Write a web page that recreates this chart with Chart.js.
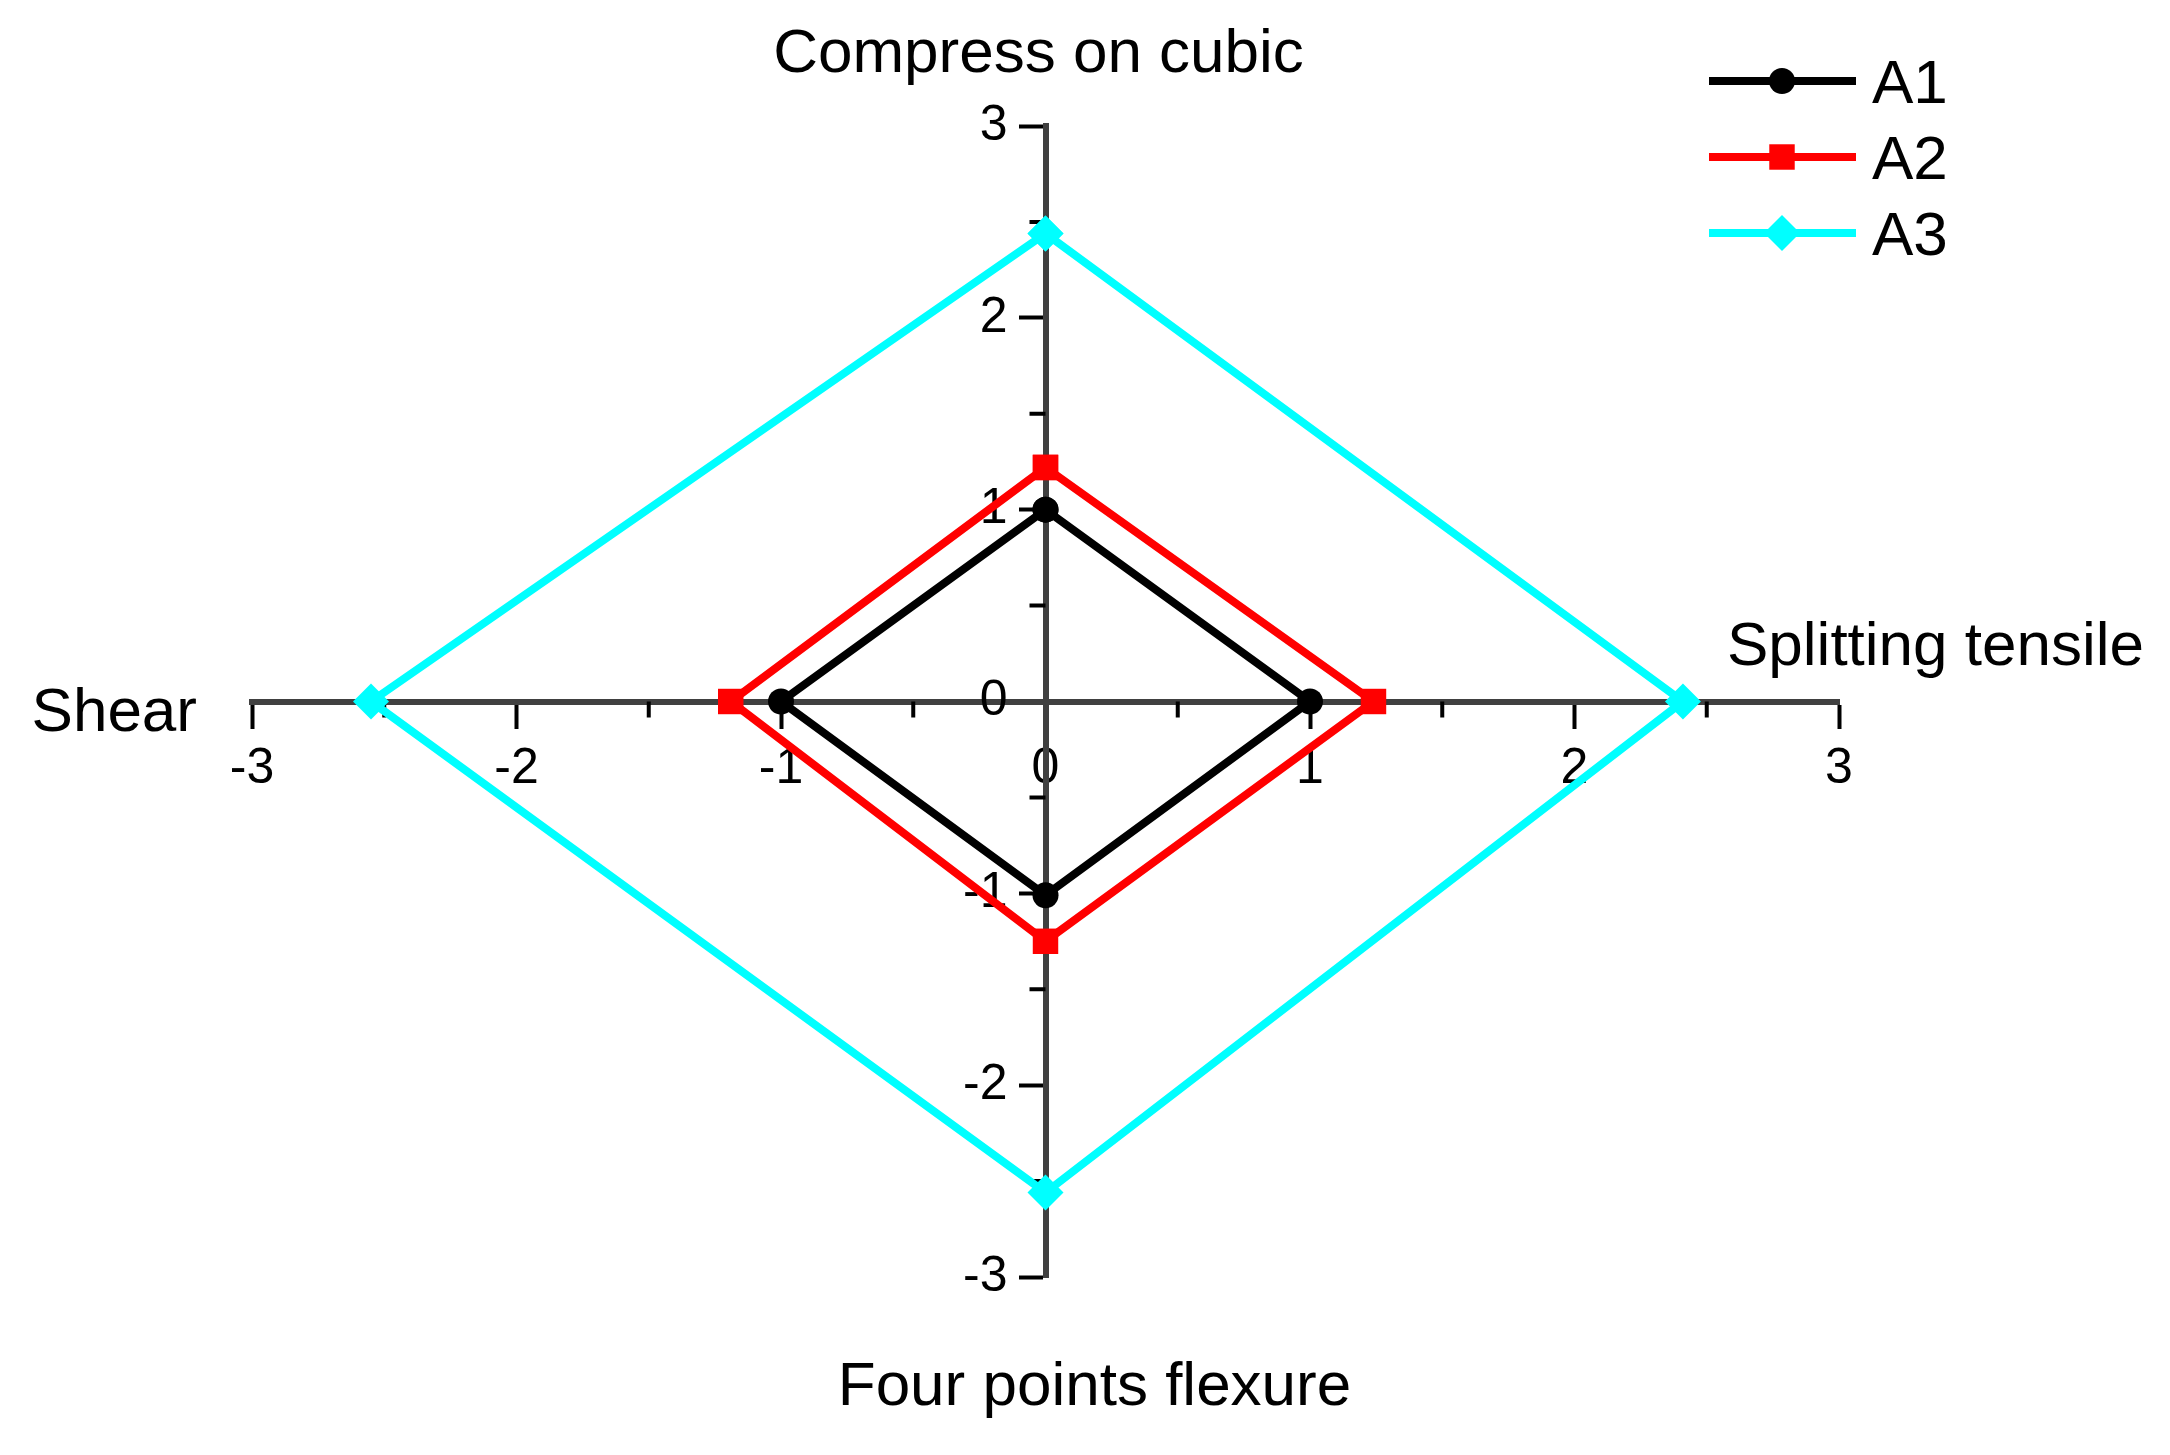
<!DOCTYPE html>
<html><head><meta charset="utf-8">
<script src="https://cdn.jsdelivr.net/npm/chart.js@4.4.1/dist/chart.umd.min.js"></script>
<style>html,body{margin:0;padding:0;background:#fff;} canvas{display:block;}</style>
</head><body>
<canvas id="c" width="2170" height="1455"></canvas>
<script>
// Axis names: top, right, bottom, left
const axisNames = ['Compress on cubic', 'Splitting tensile', 'Four points flexure', 'Shear'];
const seriesNames = ['A1', 'A2', 'A3'];
// values in order: top (y), right (x), bottom (y), left (x)
const a1Values = [1.00, 1.00, -1.01, -1.00];
const a2Values = [1.22, 1.24, -1.25, -1.19];
const a3Values = [2.44, 2.41, -2.56, -2.55];
const tickValues = [-3, -2, -1, 0, 1, 2, 3];
const tickLabels = ['-3', '-2', '-1', '0', '1', '2', '3'];
const minorTickValues = [-2.5, -1.5, -0.5, 0.5, 1.5, 2.5];

const seriesColors = ['#000000', '#ff0000', '#00ffff'];
const seriesMarkers = ['circle', 'rect', 'rectRot'];
const markerRadius = [13, 18, 18];
const FONT = "'Liberation Sans', Arial, sans-serif";

function toPoints(v) {
  return [{x: 0, y: v[0]}, {x: v[1], y: 0}, {x: 0, y: v[2]}, {x: v[3], y: 0}, {x: 0, y: v[0]}];
}

const allValues = [a1Values, a2Values, a3Values];
const datasets = allValues.map((vals, i) => ({
  label: seriesNames[i],
  data: toPoints(vals),
  showLine: true,
  borderColor: seriesColors[i],
  backgroundColor: seriesColors[i],
  borderWidth: 8,
  pointStyle: seriesMarkers[i],
  pointRadius: markerRadius[i],
  pointHoverRadius: markerRadius[i],
  pointBorderWidth: 0,
  pointBackgroundColor: seriesColors[i],
  tension: 0,
  clip: false
}));

const minorTicks = {
  id: 'minorTicks',
  beforeDatasetsDraw(chart) {
    const {ctx, scales: {x, y}} = chart;
    const ay = y.getPixelForValue(0);
    const ax = x.getPixelForValue(0);
    ctx.save();
    ctx.strokeStyle = '#000';
    ctx.lineWidth = 4;
    ctx.beginPath();
    minorTickValues.forEach(v => {
      const px = x.getPixelForValue(v);
      ctx.moveTo(px, ay); ctx.lineTo(px, ay + 16);
      const py = y.getPixelForValue(v);
      ctx.moveTo(ax, py); ctx.lineTo(ax - 16, py);
    });
    ctx.stroke();
    // y-axis tick labels, placed left of the centred axis
    ctx.fillStyle = '#000';
    ctx.font = '50px ' + FONT;
    ctx.textAlign = 'right';
    ctx.textBaseline = 'middle';
    tickValues.forEach((v, i) => {
      ctx.fillText(tickLabels[i], ax - 38, y.getPixelForValue(v));
    });
    ctx.restore();
  }
};

const axisTitles = {
  id: 'axisTitles',
  afterDraw(chart) {
    const {ctx, scales: {x, y}} = chart;
    const ax = x.getPixelForValue(0);
    const ay = y.getPixelForValue(0);
    ctx.save();
    ctx.fillStyle = '#000';
    ctx.font = '62px ' + FONT;
    ctx.textBaseline = 'alphabetic';
    ctx.textAlign = 'center';
    ctx.fillText(axisNames[0], ax - 7, y.top - 54);
    ctx.fillText(axisNames[2], ax + 49, y.bottom + 128);
    ctx.textAlign = 'left';
    ctx.fillText(axisNames[1], x.right - 112, ay - 37);
    ctx.textAlign = 'right';
    ctx.fillText(axisNames[3], x.left - 55, ay + 29);
    ctx.restore();
  }
};

const lineLegend = {
  id: 'lineLegend',
  afterDraw(chart) {
    const {ctx} = chart;
    ctx.save();
    chart.data.datasets.forEach((ds, i) => {
      const yy = 81 + i * 76;
      ctx.strokeStyle = ds.borderColor;
      ctx.lineWidth = 8;
      ctx.beginPath();
      ctx.moveTo(1709, yy); ctx.lineTo(1856, yy);
      ctx.stroke();
      ctx.fillStyle = ds.backgroundColor;
      Chart.helpers.drawPoint(ctx, {pointStyle: ds.pointStyle, radius: ds.pointRadius, borderWidth: 0, rotation: 0}, 1782, yy);
      ctx.fillStyle = '#000';
      ctx.font = '62px ' + FONT;
      ctx.textAlign = 'left';
      ctx.textBaseline = 'alphabetic';
      ctx.fillText(ds.label, 1872, yy + 22);
    });
    ctx.restore();
  }
};

const tickFont = {family: FONT, size: 50};

new Chart(document.getElementById('c').getContext('2d'), {
  type: 'scatter',
  data: {datasets},
  options: {
    responsive: false,
    animation: false,
    events: [],
    layout: {padding: {left: 252, right: 331, top: 126, bottom: 178}},
    plugins: {legend: {display: false}, tooltip: {enabled: false}},
    scales: {
      x: {
        type: 'linear', min: -3, max: 3,
        position: {y: 0},
        afterBuildTicks: s => { s.ticks = tickValues.map(v => ({value: v})); },
        ticks: {font: tickFont, color: '#000', padding: 14, maxRotation: 0, autoSkip: false,
                callback: (v) => tickLabels[tickValues.indexOf(v)]},
        grid: {drawOnChartArea: false, drawTicks: true, tickLength: 24, tickWidth: 4, tickColor: '#000'},
        border: {display: true, color: '#404040', width: 6}
      },
      y: {
        type: 'linear', min: -3, max: 3,
        position: {x: 0},
        afterBuildTicks: s => { s.ticks = tickValues.map(v => ({value: v})); },
        ticks: {display: false},
        grid: {drawOnChartArea: false, drawTicks: true, tickLength: 24, tickWidth: 4, tickColor: '#000'},
        border: {display: true, color: '#404040', width: 6}
      }
    }
  },
  plugins: [minorTicks, axisTitles, lineLegend]
});
</script>
</body></html>
